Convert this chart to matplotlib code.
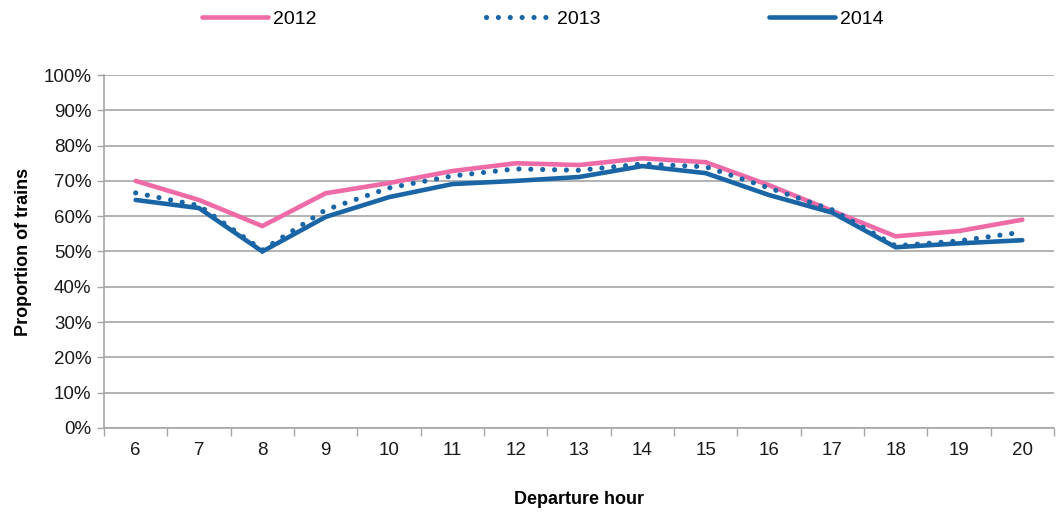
import matplotlib
matplotlib.use("Agg")
import matplotlib.pyplot as plt
import numpy as np

plt.rcParams['font.family'] = ['Liberation Sans', 'DejaVu Sans']

# Departure hours and share of trains per year
hours = ["6", "7", "8", "9", "10", "11", "12", "13", "14", "15", "16", "17", "18", "19", "20"]
share_2012 = [70.0, 64.6, 57.2, 66.5, 69.4, 72.8, 75.0, 74.5, 76.4, 75.3, 68.8, 61.5, 54.3, 55.8, 59.0]
share_2013 = [66.6, 63.0, 50.4, 61.8, 68.0, 71.4, 73.4, 73.0, 74.8, 74.0, 68.0, 61.8, 51.6, 53.0, 55.5]
share_2014 = [64.6, 62.3, 50.0, 59.8, 65.4, 69.1, 70.0, 71.1, 74.2, 72.2, 66.0, 61.0, 51.2, 52.3, 53.2]
y_ticks = list(range(0, 101, 10))

pink = "#EF6BA8"
blue = "#1A65A6"
grey = "#A6A6A6"

fig = plt.figure(figsize=(10.58, 5.13), dpi=100)
ax = fig.add_axes([0.0983, 0.1657, 0.8979, 0.6881])

x = np.arange(len(hours))
ax.plot(x, share_2012, color=pink, lw=3.3, solid_capstyle='round', solid_joinstyle='miter', label="2012", zorder=3)
ax.plot(x, share_2013, color=blue, lw=3.7, linestyle=(0, (0.01, 2.3)), dash_capstyle='round', label="2013", zorder=4)
ax.plot(x, share_2014, color=blue, lw=3.3, solid_capstyle='round', solid_joinstyle='miter', label="2014", zorder=3)

ax.set_xlim(-0.5, len(hours) - 0.5)
ax.set_ylim(0, 100)
ax.set_yticks(y_ticks)
ax.set_yticklabels([f"{v}%" for v in y_ticks])
ax.set_xticks(x)
ax.set_xticklabels(hours)
ax.set_xticks(np.arange(-0.5, len(hours)), minor=True)

ax.grid(axis='y', color=grey, lw=1.2, zorder=1)
ax.set_axisbelow(True)
for side in ['top', 'right']:
    ax.spines[side].set_visible(False)
for side in ['left', 'bottom']:
    ax.spines[side].set_color(grey)
    ax.spines[side].set_linewidth(1.2)

ax.tick_params(axis='x', which='major', length=0, pad=10, labelsize=13.5, colors='#1a1a1a')
ax.tick_params(axis='x', which='minor', length=6, width=1.0, color=grey, direction='out')
ax.tick_params(axis='y', length=5, width=1.0, color=grey, pad=4, labelsize=13.5, labelcolor='#1a1a1a')

ax.set_ylabel("Proportion of trains", fontsize=13, fontweight='bold', labelpad=8)
ax.set_xlabel("Departure hour", fontsize=13, fontweight='bold', labelpad=23)

fig.legend(loc='center', bbox_to_anchor=(543 / 1058, 0.963), ncol=3, frameon=False,
           fontsize=14, handlelength=3.4, handletextpad=0.25, columnspacing=8.7)

fig.savefig("out.png", dpi=100)
